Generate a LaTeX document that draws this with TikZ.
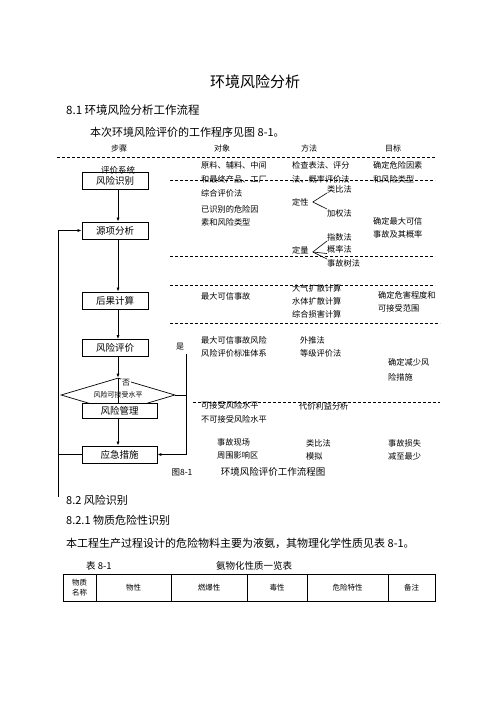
\documentclass[tikz,border=0pt]{standalone}
\usepackage{fontspec}
\newfontfamily\cjk{Noto Sans CJK SC}
\usetikzlibrary{positioning,arrows.meta,shapes.geometric}
\tikzset{
  flowarrow/.style={-{Latex[length=4pt,width=3pt]}, line width=0.7pt},
  stepbox/.style={draw, line width=0.8pt, fill=white, minimum width=66pt, minimum height=17pt, inner sep=0pt, font=\cjk\fontsize{9.5}{10}\selectfont},
  widebox/.style={stepbox, minimum width=75pt},
  decision/.style={draw, diamond, line width=0.7pt, minimum width=114pt, minimum height=34pt, aspect=3.4, inner sep=0pt, font=\cjk\fontsize{7}{8}\selectfont},
  txt/.style={anchor=west, inner sep=0pt, align=left, font=\cjk\fontsize{8.2}{13.5}\selectfont},
  head/.style={inner sep=0pt, font=\cjk\fontsize{8}{9}\selectfont},
  body/.style={anchor=west, inner sep=0pt, font=\cjk\fontsize{11}{13}\selectfont},
  sepline/.style={dashed, dash pattern=on 3pt off 2pt, line width=0.6pt},
  cell/.style={inner sep=0pt, align=center, font=\cjk\fontsize{7.5}{10}\selectfont}
}

\begin{document}
\begin{tikzpicture}[x=1pt, y=-1pt, >=Latex]
  \useasboundingbox[fill=white] (0,0) rectangle (496,702);

  % page text above the figure
  \node[inner sep=0pt, font=\cjk\fontsize{15}{17}\selectfont] (title) at (255,82) {环境风险分析};
  \node[body, font=\cjk\fontsize{11.5}{13}\selectfont] (sec81) at (66,110) {8.1 环境风险分析工作流程};
  \node[body] (intro) at (90,132) {本次环境风险评价的工作程序见图 8-1。};

  % column heads
  \node[head] (h1) at (119,148) {步骤};
  \node[head] (h2) at (222,148) {对象};
  \node[head] (h3) at (309,148) {方法};
  \node[head] (h4) at (393,148) {目标};

  % dashed separators
  \draw[sepline] (57,157) -- (435,157);
  \draw[sepline] (170,180) -- (435,180);
  \draw[sepline] (170,256) -- (435,256);
  \draw[sepline] (170,285) -- (435,285);
  \draw[sepline] (170,323) -- (440,323);
  \draw[sepline] (193,402) -- (440,402);

  % steps
  \node[stepbox] (s1) at (115,181) {风险识别};
  \node[head, font=\cjk\fontsize{8.5}{9}\selectfont] (sys) at (118,170) {评价系统};
  \node[stepbox] (s2) at (115,230.5) {源项分析};
  \node[stepbox] (s3) at (115,300.5) {后果计算};
  \node[stepbox] (s4) at (115,348) {风险评价};
  \node[decision] (dec) at (118,395) {风险可接受水平};
  \draw[line width=0.7pt] (dec.north) -- (118,403);
  \node[widebox, minimum height=15pt] (s5) at (119.5,410.5) {风险管理};
  \node[widebox] (s6) at (119.5,454.5) {应急措施};
  \node[head, fill=white, inner sep=1pt] (no) at (126,383) {否};
  \node[head] (yes) at (180,347) {是};

  \coordinate (axis) at (118,0);
  \coordinate (lft) at (58,497);
  \coordinate (ytop) at (186,354);

  \draw[flowarrow] (s1.south -| axis) -- (s2.north -| axis);
  \draw[flowarrow] (s2.south -| axis) -- (s3.north -| axis);
  \draw[flowarrow] (s3.south -| axis) -- (s4.north -| axis);
  \draw[flowarrow] (s4.south -| axis) -- (dec.north);
  \draw[flowarrow] (s5.south -| axis) -- (s6.north -| axis);
  \draw[line width=0.7pt] (dec.east) -- (dec.east -| ytop);
  \draw[flowarrow] (ytop) |- (s6.east);
  \draw[line width=0.7pt] (s6.west) -- (s6.west -| lft);
  \draw[flowarrow] (lft) |- (s2.west);

  % objects
  \node[txt, font=\cjk\fontsize{8.2}{14}\selectfont] (o1) at (201,179) {原料、辅料、中间\\和最终产品、工厂\\综合评价法};
  \node[txt, font=\cjk\fontsize{8.2}{12.5}\selectfont] (o2) at (201,216) {已识别的危险因\\素和风险类型};
  \node[txt] (o3) at (201,296) {最大可信事故};
  \node[txt, font=\cjk\fontsize{8.2}{12.5}\selectfont] (o4) at (201,347) {最大可信事故风险\\风险评价标准体系};
  \node[txt] (o5) at (201,412.5) {可接受风险水平\\不可接受风险水平};
  \node[txt] (o6) at (217,449) {事故现场\\周围影响区};

  % methods
  \node[txt, font=\cjk\fontsize{8.2}{14}\selectfont] (m1) at (292,172) {检查表法、评分\\法、概率评价法};
  \node[txt] (dx) at (292,202) {定性};
  \node[txt] (lb) at (327,189) {类比法};
  \node[txt] (jq) at (327,213) {加权法};
  \draw[line width=0.6pt] (dx.east) ++(4,0) -- (lb.south west);
  \draw[line width=0.6pt] (dx.east) ++(4,0) -- (jq.north west);
  \node[txt] (dl) at (292,250) {定量};
  \node[txt] (zs) at (327,237) {指数法};
  \node[txt] (gl) at (327,249.5) {概率法};
  \node[txt] (sg) at (327,263) {事故树法};
  \draw[line width=0.6pt] (dl.east) ++(4,2) -- (zs.south west);
  \draw[line width=0.6pt] (dl.east) ++(4,2) -- (gl.south west);
  \draw[line width=0.6pt] (dl.east) ++(4,2) -- (sg.north west);
  \node[txt, font=\cjk\fontsize{8.2}{13}\selectfont] (m2) at (292,301) {大气扩散计算\\水体扩散计算\\综合损害计算};
  \node[txt, font=\cjk\fontsize{8.2}{12.5}\selectfont] (m3) at (300,347) {外推法\\等级评价法};
  \node[txt] (m4) at (299,406) {代价利益分析};
  \node[txt] (m5) at (306,450) {类比法\\模拟};

  % targets
  \node[txt, font=\cjk\fontsize{8.2}{14}\selectfont] (t1) at (373,172) {确定危险因素\\和风险类型};
  \node[txt] (t2) at (373,228) {确定最大可信\\事故及其概率};
  \node[txt] (t3) at (378,302) {确定危害程度和\\可接受范围};
  \node[txt, font=\cjk\fontsize{8.2}{15}\selectfont] (t4) at (388,369.5) {确定减少风\\险措施};
  \node[txt] (t5) at (388,450) {事故损失\\减至最少};

  % caption
  \node[head, font=\cjk\fontsize{8.5}{9}\selectfont] (fig) at (182,472) {图8-1};
  \node[head, font=\cjk\fontsize{9.5}{10}\selectfont] (cap) at (273,472) {环境风险评价工作流程图};

  % page text below the figure
  \node[body] (sec82) at (66,500) {8.2 风险识别};
  \node[body] (sec821) at (66,520) {8.2.1 物质危险性识别};
  \node[body] (para) at (66,543) {本工程生产过程设计的危险物料主要为液氨，其物理化学性质见表 8-1。};
  \node[body, font=\cjk\fontsize{9.5}{10}\selectfont] (tab) at (86,566) {表 8-1};
  \node[inner sep=0pt, font=\cjk\fontsize{9.5}{10}\selectfont] (tabcap) at (254,566) {氨物化性质一览表};

  % table head
  \draw[line width=0.8pt] (63,574) rectangle (435,601);
  \foreach \xx in {96,171,247,307,388}
    \draw[line width=0.8pt] (\xx,574) -- (\xx,601);
  \node[cell] (c1) at (79.5,587.5) {物质\\名称};
  \node[cell] (c2) at (133.5,587.5) {物性};
  \node[cell] (c3) at (209,587.5) {燃爆性};
  \node[cell] (c4) at (277,587.5) {毒性};
  \node[cell] (c5) at (347.5,587.5) {危险特性};
  \node[cell] (c6) at (411.5,587.5) {备注};
\end{tikzpicture}
\end{document}
